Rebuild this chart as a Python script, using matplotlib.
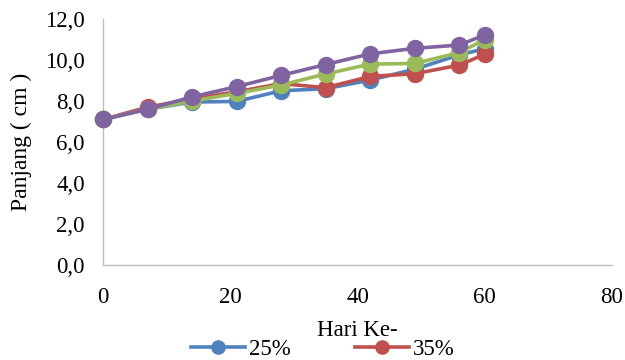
import matplotlib
matplotlib.use("Agg")
import matplotlib.pyplot as plt
from matplotlib.lines import Line2D

plt.rcParams['font.family'] = ['Liberation Serif', 'DejaVu Serif']

hari = [0, 7, 14, 21, 28, 35, 42, 49, 56, 60]
p25 = [7.1, 7.6, 7.95, 7.98, 8.5, 8.6, 9.02, 9.55, 10.25, 10.55]
p35 = [7.1, 7.7, 8.1, 8.45, 8.85, 8.65, 9.2, 9.33, 9.75, 10.28]
p45 = [7.1, 7.6, 8.0, 8.37, 8.78, 9.32, 9.8, 9.83, 10.36, 11.0]
p55 = [7.1, 7.6, 8.2, 8.7, 9.25, 9.78, 10.3, 10.57, 10.73, 11.22]
labels = ['25%', '35%', '45%', '55%']
colors = ['#4F81BD', '#C0504D', '#9BBB59', '#8064A2']

W, H = 625, 360
left, right, top, bottom = 103, 612, 19, 265
fig = plt.figure(figsize=(W / 100, H / 100), dpi=100)
ax = fig.add_axes([left / W, 1 - bottom / H, (right - left) / W, (bottom - top) / H])

for vals, lab, c in zip([p25, p35, p45, p55], labels, colors):
    ax.plot(hari, vals, color=c, lw=2.6, marker='o', ms=11.5, label=lab,
            solid_joinstyle='round', clip_on=False)

ax.set_xlim(0, 80)
ax.set_ylim(0, 12)
ax.set_xticks([0, 20, 40, 60, 80])
ax.set_yticks([0, 2, 4, 6, 8, 10, 12])
ax.set_yticklabels([f"{v:.1f}".replace('.', ',') for v in ax.get_yticks()])
ax.tick_params(length=0, labelsize=16.5)
ax.tick_params(axis='x', pad=15.5)
ax.tick_params(axis='y', pad=13)
for s in ['top', 'right']:
    ax.spines[s].set_visible(False)
for s in ['left', 'bottom']:
    ax.spines[s].set_color('#BFBFBF')
    ax.spines[s].set_linewidth(1)
    ax.spines[s].set_zorder(0)

ax.set_ylabel('Panjang ( cm )', fontsize=17, va='center')
ax.yaxis.set_label_coords((21 - left) / (right - left), 0.5)
ax.set_xlabel('Hari Ke-', fontsize=16.5, va='center')
ax.xaxis.set_label_coords((357 - left) / (right - left), -(330 - bottom) / (bottom - top))

handles = [Line2D([], [], color=c, lw=2.6, marker='o', ms=9.5) for c in colors[:2]]
fig.legend(handles, labels[:2], loc='center', bbox_to_anchor=(323 / W, 1 - 349 / H),
           ncol=2, frameon=False, fontsize=16.5, handlelength=2.35, columnspacing=2.8,
           handletextpad=0.17, borderpad=0, borderaxespad=0)

fig.savefig('out.png', dpi=100)
